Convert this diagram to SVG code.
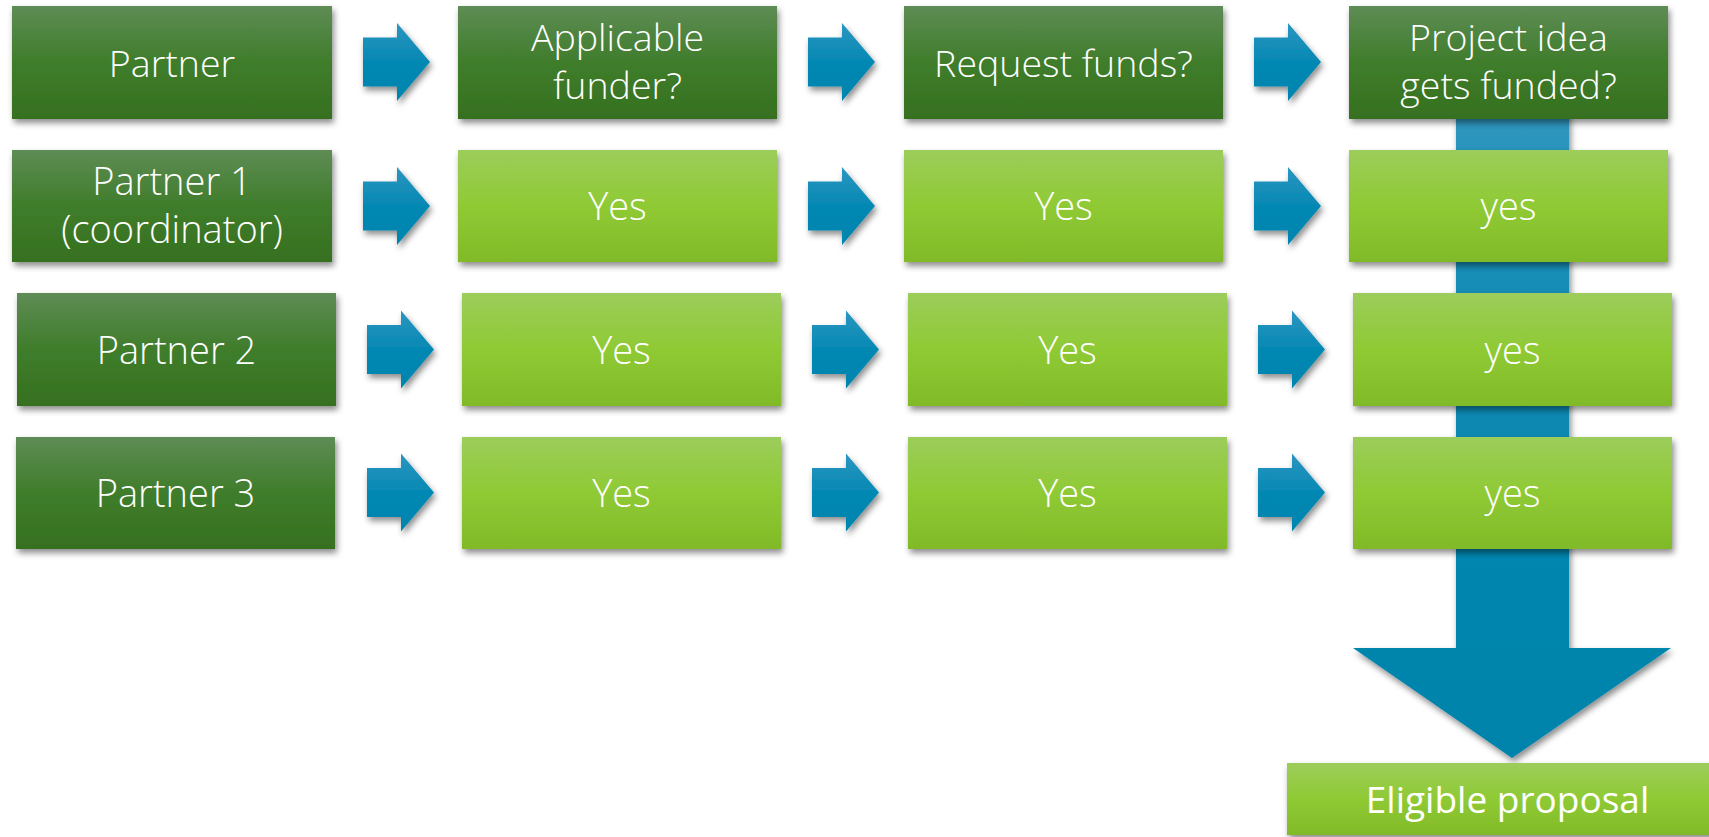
<svg xmlns="http://www.w3.org/2000/svg" width="1709" height="837" viewBox="0 0 1709 837">
<style>
text{font-family:"Open Sans","Noto Sans","Liberation Sans",sans-serif;font-weight:300;fill:#fff;text-anchor:middle}
.t{font-size:38px}
.t1{font-size:37.5px}
.big{font-size:37px;font-weight:400}
.dk{fill:url(#gDark);filter:url(#sh)}
.lt{fill:url(#gLight);filter:url(#sh)}
.ar{fill:url(#gArrow);filter:url(#sh)}
</style>
<defs>
<linearGradient id="gDark" x1="0" y1="0" x2="0" y2="1">
<stop offset="0" stop-color="#5e8c55"/>
<stop offset="0.5" stop-color="#3f7d2b"/>
<stop offset="1" stop-color="#36701f"/>
</linearGradient>
<linearGradient id="gLight" x1="0" y1="0" x2="0" y2="1">
<stop offset="0" stop-color="#9ccd5b"/>
<stop offset="0.5" stop-color="#8fca34"/>
<stop offset="1" stop-color="#81ba28"/>
</linearGradient>
<linearGradient id="gArrow" x1="0" y1="0" x2="0" y2="1">
<stop offset="0" stop-color="#2c96c0"/>
<stop offset="0.55" stop-color="#0087b2"/>
<stop offset="1" stop-color="#0085ae"/>
</linearGradient>
<linearGradient id="gVert" gradientUnits="userSpaceOnUse" x1="0" y1="110" x2="0" y2="760">
<stop offset="0" stop-color="#3196be"/>
<stop offset="0.35" stop-color="#0a8ab3"/>
<stop offset="1" stop-color="#0083ab"/>
</linearGradient>
<filter id="sh" x="-10%" y="-20%" width="125%" height="150%">
<feDropShadow dx="2" dy="4" stdDeviation="3" flood-color="#000" flood-opacity="0.45"/>
</filter>
<path id="arr" d="M0,-24.5 H34 V-39 L67,0 L34,39 V24.5 H0 Z"/>
</defs>

<g id="connectors">
<path id="down-arrow" d="M1456,110 H1569 V648 H1671 L1512,758 L1353,648 H1456 Z" fill="url(#gVert)" filter="url(#sh)"/>
<use href="#arr" class="ar" transform="translate(363,62)"/>
<use href="#arr" class="ar" transform="translate(808,62)"/>
<use href="#arr" class="ar" transform="translate(1254,62)"/>
<use href="#arr" class="ar" transform="translate(363,206)"/>
<use href="#arr" class="ar" transform="translate(808,206)"/>
<use href="#arr" class="ar" transform="translate(1254,206)"/>
<use href="#arr" class="ar" transform="translate(367,349.5)"/>
<use href="#arr" class="ar" transform="translate(812,349.5)"/>
<use href="#arr" class="ar" transform="translate(1258,349.5)"/>
<use href="#arr" class="ar" transform="translate(367,492.5)"/>
<use href="#arr" class="ar" transform="translate(812,492.5)"/>
<use href="#arr" class="ar" transform="translate(1258,492.5)"/>
</g>

<g id="partner"><rect class="dk" x="12" y="6" width="320" height="113"/><text class="t1" x="172" y="77">Partner</text></g>
<g id="applicable"><rect class="dk" x="458" y="6" width="319" height="113"/><text class="t1" x="617.5" y="51">Applicable</text><text class="t1" x="617.5" y="99">funder?</text></g>
<g id="request"><rect class="dk" x="904" y="6" width="319" height="113"/><text class="t1" x="1063.5" y="77">Request funds?</text></g>
<g id="funded"><rect class="dk" x="1349" y="6" width="319" height="113"/><text class="t1" x="1508.5" y="51">Project idea</text><text class="t1" x="1508.5" y="99">gets funded?</text></g>

<g id="partner1"><rect class="dk" x="12" y="150" width="320" height="112"/><text class="t" x="172" y="195">Partner 1</text><text class="t" x="172" y="243">(coordinator)</text></g>
<g id="p1-applicable"><rect class="lt" x="458" y="150" width="319" height="112"/><text class="t" x="617.5" y="220">Yes</text></g>
<g id="p1-request"><rect class="lt" x="904" y="150" width="319" height="112"/><text class="t" x="1063.5" y="220">Yes</text></g>
<g id="p1-funded"><rect class="lt" x="1349" y="150" width="319" height="112"/><text class="t" x="1508.5" y="220">yes</text></g>

<g id="partner2"><rect class="dk" x="17" y="293" width="319" height="113"/><text class="t" x="176.5" y="364">Partner 2</text></g>
<g id="p2-applicable"><rect class="lt" x="462" y="293" width="319" height="113"/><text class="t" x="621.5" y="364">Yes</text></g>
<g id="p2-request"><rect class="lt" x="908" y="293" width="319" height="113"/><text class="t" x="1067.5" y="364">Yes</text></g>
<g id="p2-funded"><rect class="lt" x="1353" y="293" width="319" height="113"/><text class="t" x="1512.5" y="364">yes</text></g>

<g id="partner3"><rect class="dk" x="16" y="437" width="319" height="112"/><text class="t" x="175.5" y="507">Partner 3</text></g>
<g id="p3-applicable"><rect class="lt" x="462" y="437" width="319" height="112"/><text class="t" x="621.5" y="507">Yes</text></g>
<g id="p3-request"><rect class="lt" x="908" y="437" width="319" height="112"/><text class="t" x="1067.5" y="507">Yes</text></g>
<g id="p3-funded"><rect class="lt" x="1353" y="437" width="319" height="112"/><text class="t" x="1512.5" y="507">yes</text></g>

<g id="eligible"><rect class="lt" x="1287" y="763" width="430" height="72"/><text class="big" x="1507.5" y="813">Eligible proposal</text></g>
</svg>
